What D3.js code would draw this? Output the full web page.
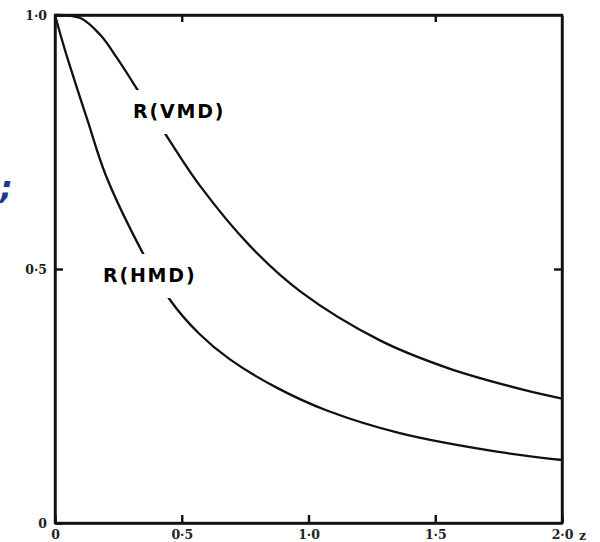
<!DOCTYPE html>
<html>
<head>
	<meta http-equiv="Content-Type" content="text/html;charset=utf-8">
	<title>R(VMD) R(HMD)</title>
	<script src="https://d3js.org/d3.v7.min.js"></script>
	<style type="text/css">
		body { margin: 0; background: #fff; }
		.axis path, .axis line { stroke: #111; stroke-width: 2.4px; }
		.axis text { font-family: "DejaVu Serif", serif; font-weight: bold; font-size: 12.5px; fill: #222; }
		.curve { fill: none; stroke: #111; stroke-width: 2.3px; }
		.lab { font-family: "DejaVu Sans", sans-serif; font-weight: bold; font-size: 19px; letter-spacing: 1.8px; }
	</style>
</head>
<body>
	<svg width="600" height="542"></svg>

	<script type="text/javascript">
		// values
		var zVmd = [0, 0.1, 0.18, 0.245, 0.31, 0.43, 0.57, 0.77, 0.97, 1.28, 1.55, 1.85, 2.0];
		var rVmd = [1.0, 0.994, 0.96, 0.915, 0.865, 0.77, 0.665, 0.545, 0.455, 0.36, 0.305, 0.262, 0.245];
		var zHmd = [0, 0.04, 0.13, 0.2, 0.33, 0.454, 0.57, 0.69, 0.88, 1.07, 1.36, 1.75, 2.0];
		var rHmd = [1.0, 0.93, 0.79, 0.685, 0.547, 0.439, 0.372, 0.322, 0.265, 0.222, 0.177, 0.14, 0.124];
		var xTicks = [0, 0.5, 1.0, 1.5, 2.0];
		var yTicks = [0, 0.5, 1.0];

		var svg = d3.select("svg");
		var x = d3.scaleLinear().domain([0, 2]).range([55, 562]);
		var y = d3.scaleLinear().domain([0, 1]).range([523, 15]);
		var fmt = function (v) { return v === 0 ? "0" : d3.format(".1f")(v).replace(".", "·"); };

		// frame
		svg.append("rect").attr("x", x(0)).attr("y", y(1))
			.attr("width", x(2) - x(0)).attr("height", y(0) - y(1))
			.attr("fill", "none").attr("stroke", "#111").attr("stroke-width", 2.4);

		svg.append("g").attr("class", "axis").attr("transform", "translate(" + x(0) + ",0)")
			.call(d3.axisLeft(y).tickValues(yTicks).tickFormat(fmt).tickSizeInner(-8).tickSizeOuter(0).tickPadding(8));
		svg.append("g").attr("class", "axis").attr("transform", "translate(0," + y(0) + ")")
			.call(d3.axisBottom(x).tickValues(xTicks).tickFormat(fmt).tickSizeInner(-8).tickSizeOuter(0).tickPadding(7));
		svg.append("g").attr("class", "axis").attr("transform", "translate(0," + y(1) + ")")
			.call(d3.axisTop(x).tickValues([0.5, 1.5]).tickFormat("").tickSizeInner(-7).tickSizeOuter(0));
		svg.append("g").attr("class", "axis").attr("transform", "translate(" + x(2) + ",0)")
			.call(d3.axisRight(y).tickValues([0.5]).tickFormat("").tickSizeInner(-8).tickSizeOuter(0));
		svg.append("text").attr("x", x(2) + 17).attr("y", y(0) + 17)
			.style("font-family", "DejaVu Serif, serif").style("font-weight", "bold").style("font-size", "12.5px")
			.attr("fill", "#222").text("z");

		var line = d3.line().curve(d3.curveCatmullRom.alpha(0.5))
			.x(function (d) { return x(d[0]); })
			.y(function (d) { return y(d[1]); });

		svg.append("path").attr("class", "curve").attr("d", line(d3.zip(zVmd, rVmd)));
		svg.append("path").attr("class", "curve").attr("d", line(d3.zip(zHmd, rHmd)));

		// labels break the curves
		function label(txt, lx, ly) {
			var t = svg.append("text").attr("class", "lab").attr("x", lx).attr("y", ly).text(txt);
			var b = t.node().getBBox();
			svg.insert("rect", "text.lab").attr("x", b.x - 4).attr("y", b.y - 10)
				.attr("width", b.width + 8).attr("height", b.height + 22).attr("fill", "#fff");
		}
		label("R(VMD)", 133, 118);
		label("R(HMD)", 103, 282);

		// stray blue mark at the left edge
		svg.append("text").attr("x", 0).attr("y", 199)
			.style("font-family", "DejaVu Sans, sans-serif").style("font-weight", "bold").style("font-style", "italic")
			.style("font-size", "32px").attr("fill", "#1b3a8c").text(";");
	</script>
</body>
</html>
